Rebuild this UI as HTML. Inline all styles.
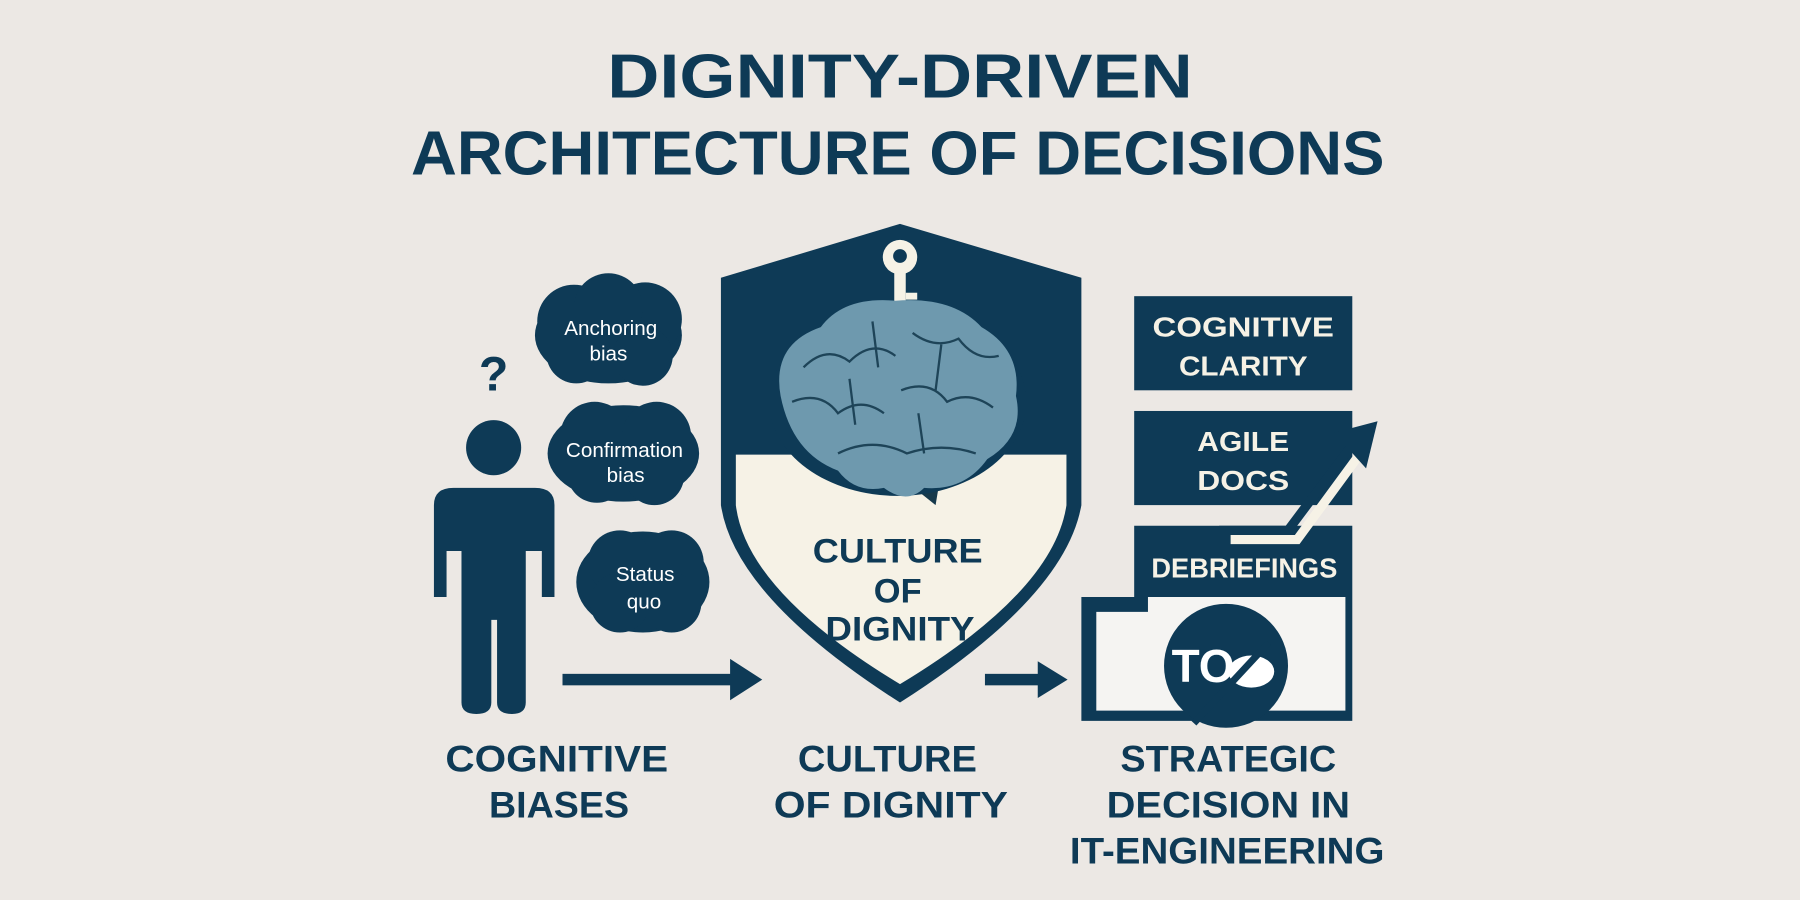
<!DOCTYPE html>
<html><head><meta charset="utf-8"><style>
html,body{margin:0;padding:0;background:#ece8e4;}
svg{display:block;}
text{font-family:"Liberation Sans",sans-serif;font-weight:bold;}
</style></head><body>
<svg width="1800" height="900" viewBox="0 0 1568 784" preserveAspectRatio="none" xmlns="http://www.w3.org/2000/svg">
<rect width="1568" height="784" fill="#ece8e4"/>
<g fill="#0e3a56">
<text x="784" y="85" text-anchor="middle" font-size="54" textLength="510" lengthAdjust="spacingAndGlyphs">DIGNITY-DRIVEN</text>
<text x="782" y="152" text-anchor="middle" font-size="54" textLength="848" lengthAdjust="spacingAndGlyphs">ARCHITECTURE OF DECISIONS</text>
</g>
<!-- shield -->
<path d="M784 195 L628 242 L628 440 Q640 520 784 612 Q928 520 942 440 L942 242 Z" fill="#0e3a56"/>
<path d="M641 396 L929 396 L929 440 Q918 515 784 596 Q650 515 641 440 Z" fill="#f6f2e6"/>
<!-- key -->
<g fill="#f6f2e6">
<circle cx="784" cy="224" r="15"/>
<rect x="779" y="235" width="10" height="38"/>
<rect x="789" y="255" width="10" height="6"/>
<rect x="789" y="265" width="10" height="6"/>
</g>
<circle cx="784" cy="223" r="6" fill="#0e3a56"/>
<!-- brain -->
<path d="M790 420 L815 440 L820 410 Z" fill="#16394c"/>
<ellipse cx="782" cy="350" rx="112" ry="82" fill="#0e3a56"/>
<path d="M680 345 Q672 300 715 285 Q735 258 780 262 Q830 258 855 285 Q890 305 885 345 Q893 380 860 400 Q840 428 805 425 Q790 440 770 425 Q745 430 730 410 Q690 395 680 345 Z" fill="#6e99ae"/>
<g stroke="#1e4458" stroke-width="2" fill="none">
<path d="M700 320 Q720 300 740 315 Q760 295 780 310"/><path d="M795 290 Q815 305 835 295 Q850 315 870 310"/>
<path d="M690 350 Q715 340 730 360 Q750 345 770 360"/><path d="M785 340 Q810 330 825 350 Q845 340 865 355"/>
<path d="M730 395 Q760 380 790 395 Q820 385 850 395"/><path d="M760 280 L765 320 M820 300 L815 340 M740 330 L745 370 M800 360 L805 395"/>
</g>
<g fill="#0e3a56" text-anchor="middle" font-size="30">
<text x="782" y="490" textLength="148" lengthAdjust="spacingAndGlyphs">CULTURE</text>
<text x="782" y="525">OF</text>
<text x="784" y="558" textLength="130" lengthAdjust="spacingAndGlyphs">DIGNITY</text>
</g>
<!-- person -->
<g fill="#0e3a56">
<text x="430" y="340" text-anchor="middle" font-size="42">?</text>
<circle cx="430" cy="390" r="24"/>
<path d="M378 440 Q378 425 395 425 L466 425 Q483 425 483 440 L483 520 L472 520 L472 480 L458 480 L458 612 Q458 622 446 622 Q433 622 433 612 L433 540 L428 540 L428 612 Q428 622 415 622 Q402 622 402 612 L402 480 L389 480 L389 520 L378 520 Z"/>
<!-- clouds -->
<ellipse cx="530" cy="292" rx="64" ry="42"/><circle cx="500" cy="280" r="32"/><circle cx="562" cy="278" r="32"/><circle cx="530" cy="268" r="30"/><circle cx="502" cy="308" r="26"/><circle cx="560" cy="310" r="26"/>
<ellipse cx="543" cy="395" rx="66" ry="42"/><circle cx="518" cy="380" r="30"/><circle cx="572" cy="380" r="30"/><circle cx="520" cy="412" r="26"/><circle cx="570" cy="414" r="26"/>
<ellipse cx="560" cy="507" rx="58" ry="44"/><circle cx="540" cy="490" r="28"/><circle cx="585" cy="490" r="28"/><circle cx="540" cy="525" r="26"/><circle cx="585" cy="525" r="26"/>
<!-- arrows -->
<rect x="490" y="587" width="148" height="10"/><path d="M636 574 L664 592 L636 610 Z"/>
<rect x="858" y="587" width="48" height="10"/><path d="M904 576 L930 592 L904 608 Z"/>
</g>
<g fill="#fff" text-anchor="middle" font-size="18">
<text x="532" y="292" style="font-weight:normal">Anchoring</text><text x="530" y="314" style="font-weight:normal">bias</text>
<text x="544" y="398" style="font-weight:normal">Confirmation</text><text x="545" y="420" style="font-weight:normal">bias</text>
<text x="562" y="506" style="font-weight:normal">Status</text><text x="561" y="530" style="font-weight:normal">quo</text>
</g>
<!-- right boxes -->
<g fill="#0e3a56">
<rect x="988" y="258" width="190" height="82"/>
<rect x="988" y="358" width="190" height="82"/>
<path d="M988 458 L1178 458 L1178 628 L942 628 L942 520 L988 520 Z"/>
</g>
<path d="M955 533 L1000 533 L1000 520 L1172 520 L1172 619 L955 619 Z" fill="#f5f4f2"/>
<circle cx="1068" cy="580" r="54" fill="#0e3a56"/>
<text x="1048" y="594" fill="#fff" text-anchor="middle" font-size="40">TO</text>
<ellipse cx="1090" cy="585" rx="20" ry="14" fill="#fff"/>
<path d="M1040 630 L1105 560" stroke="#0e3a56" stroke-width="6"/>
<!-- trend arrow -->
<path d="M1072 470 L1130 470 L1185 395" stroke="#f6f2e6" stroke-width="8" fill="none"/>
<path d="M1062 462 L1122 462 L1176 390" stroke="#0e3a56" stroke-width="8" fill="none"/>
<path d="M1162 377 L1200 367 L1190 408 Z" fill="#0e3a56"/>
<g fill="#f6f2e6" text-anchor="middle" font-size="24">
<text x="1083" y="293" textLength="158" lengthAdjust="spacingAndGlyphs">COGNITIVE</text>
<text x="1083" y="327" textLength="112" lengthAdjust="spacingAndGlyphs">CLARITY</text>
<text x="1083" y="393" textLength="80" lengthAdjust="spacingAndGlyphs">AGILE</text>
<text x="1083" y="427" textLength="80" lengthAdjust="spacingAndGlyphs">DOCS</text>
<text x="1084" y="503" textLength="162" lengthAdjust="spacingAndGlyphs">DEBRIEFINGS</text>
</g>
<!-- bottom labels -->
<g fill="#0e3a56" text-anchor="middle" font-size="32">
<text x="485" y="672" textLength="194" lengthAdjust="spacingAndGlyphs">COGNITIVE</text>
<text x="487" y="712" textLength="122" lengthAdjust="spacingAndGlyphs">BIASES</text>
<text x="773" y="672" textLength="156" lengthAdjust="spacingAndGlyphs">CULTURE</text>
<text x="776" y="712" textLength="204" lengthAdjust="spacingAndGlyphs">OF DIGNITY</text>
<text x="1070" y="672" textLength="188" lengthAdjust="spacingAndGlyphs">STRATEGIC</text>
<text x="1070" y="712" textLength="212" lengthAdjust="spacingAndGlyphs">DECISION IN</text>
<text x="1069" y="752" textLength="274" lengthAdjust="spacingAndGlyphs">IT-ENGINEERING</text>
</g>
</svg>
</body></html>
